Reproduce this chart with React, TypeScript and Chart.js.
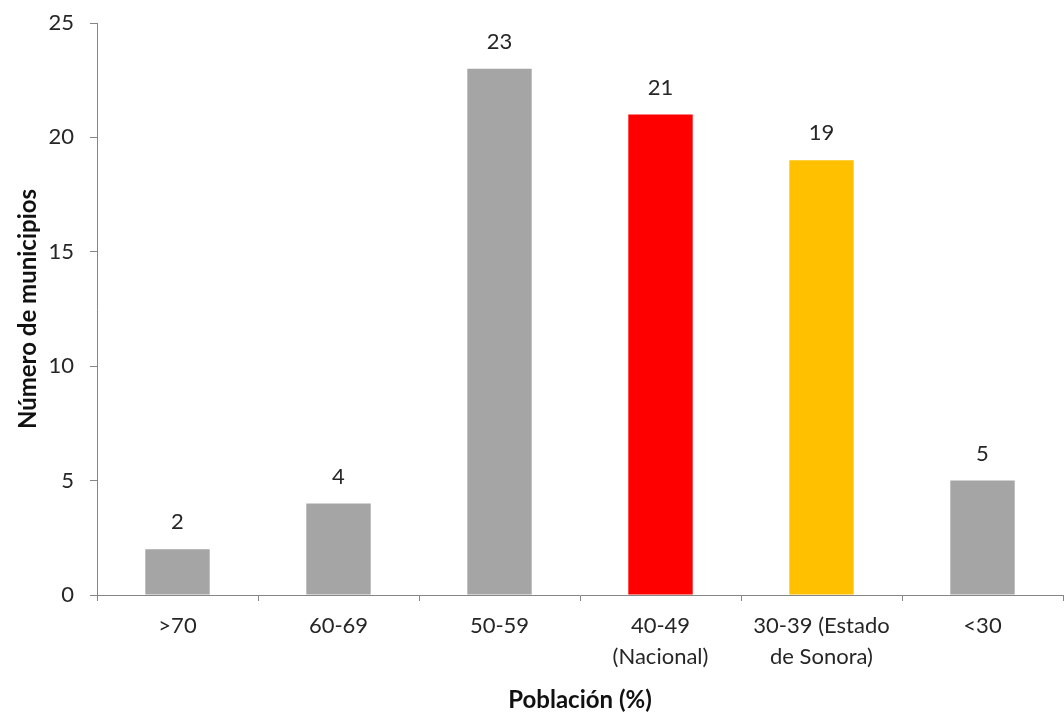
import React, { useEffect, useRef } from "react";
import { Chart, registerables } from "chart.js";

Chart.register(...registerables);

const categories: (string | string[])[] = [
  ">70",
  "60-69",
  "50-59",
  ["40-49", "(Nacional)"],
  ["30-39 (Estado", "de Sonora)"],
  "<30",
];
const municipios: number[] = [2, 4, 23, 21, 19, 5];
const barColors: string[] = ["#a5a5a5", "#a5a5a5", "#a5a5a5", "#ff0000", "#ffc000", "#a5a5a5"];
const yTicks: number[] = [0, 5, 10, 15, 20, 25];
const yTitle = "Número de municipios";
const xTitle = "Población (%)";

const FONT = "Lato, 'Open Sans', sans-serif";
const TEXT = "#262626";

const valueLabels = {
  id: "valueLabels",
  afterDatasetsDraw(chart: any) {
    const ctx = chart.ctx;
    const meta = chart.getDatasetMeta(0);
    ctx.save();
    ctx.font = `22px ${FONT}`;
    ctx.fillStyle = TEXT;
    ctx.textAlign = "center";
    ctx.textBaseline = "middle";
    meta.data.forEach((bar: any, i: number) => {
      ctx.fillText(String(municipios[i]), bar.x, bar.y - 27);
    });
    ctx.restore();
  },
};

export default function App() {
  const ref = useRef<HTMLCanvasElement | null>(null);
  useEffect(() => {
    document.body.style.margin = "0";
    const chart = new Chart(ref.current!, {
      type: "bar",
      data: {
        labels: categories,
        datasets: [
          {
            data: municipios,
            backgroundColor: barColors,
            categoryPercentage: 1,
            barPercentage: 0.4,
          },
        ],
      },
      options: {
        animation: false,
        responsive: false,
        layout: { padding: { top: 23, right: 1, left: 0, bottom: 0 } },
        plugins: { legend: { display: false }, tooltip: { enabled: false } },
        scales: {
          x: {
            grid: { display: true, drawOnChartArea: false, tickLength: 6, color: "#868686" },
            border: { color: "#868686", width: 1 },
            ticks: { color: TEXT, font: { family: FONT, size: 22, lineHeight: 1.4 }, padding: 10, maxRotation: 0, autoSkip: false },
            title: { display: true, text: xTitle, color: "#111", font: { family: FONT, size: 24, weight: "bold" }, padding: { top: 10 } },
            afterFit(scale: any) { scale.height = 124; scale.paddingLeft = 0; scale.paddingRight = 0; },
          },
          y: {
            min: 0,
            max: 25,
            afterBuildTicks(scale: any) { scale.ticks = yTicks.map((v) => ({ value: v })); },
            grid: { display: true, drawOnChartArea: false, tickLength: 7, color: "#868686" },
            border: { color: "#868686", width: 1 },
            ticks: { color: TEXT, font: { family: FONT, size: 22 }, padding: 16 },
            title: { display: true, text: yTitle, color: "#111", font: { family: FONT, size: 24, weight: "bold" }, padding: { bottom: 0, top: 14 } },
            afterFit(scale: any) { scale.width = 97; scale.paddingTop = 0; scale.paddingBottom = 0; },
          },
        },
      },
      plugins: [valueLabels],
    } as any);
    return () => chart.destroy();
  }, []);
  return (
    <div style={{ position: "absolute", left: 0, top: 0, width: 1064, height: 719, background: "#fff" }}>
      <canvas ref={ref} width={1064} height={719} style={{ display: "block" }} />
    </div>
  );
}
